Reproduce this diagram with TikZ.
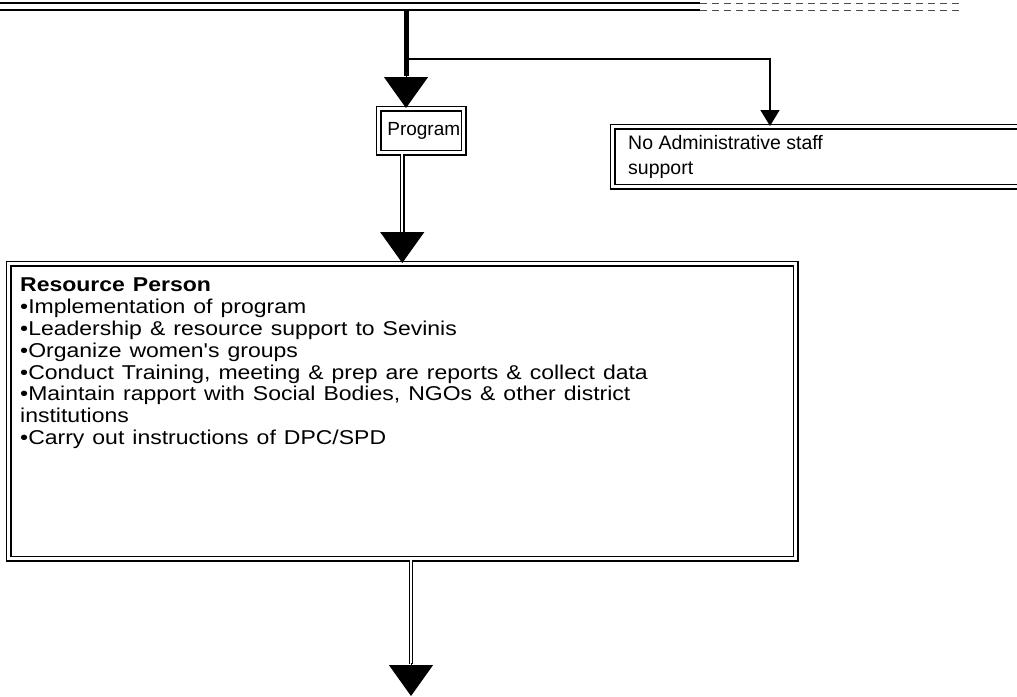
\documentclass[tikz,border=0pt]{standalone}
\usepackage{fontspec}
\setmainfont{Liberation Sans}
% a slightly widened face for the duty list
\newfontfamily\widesans[FakeStretch=1.15]{Liberation Sans}
\usetikzlibrary{arrows.meta,calc}
\newcommand\dutyfont{\widesans\fontsize{20}{21.8}\selectfont\spaceskip 8pt plus 1pt minus 1pt\relax}
\begin{document}
\begin{tikzpicture}[x=1pt,y=-1pt,
  dbox/.style={draw=black, double=white, double distance=2.6pt, line width=1.5pt, inner sep=0pt},
  shaft/.style={draw=black, double=white, double distance=2.2pt, line width=1.3pt},
  bighead/.style={-{Triangle[width=44pt,length=31pt]}, line width=1pt},
  smallhead/.style={-{Triangle[width=19pt,length=16pt]}, line width=1.4pt},
  txt/.style={font=\fontsize{19.5}{22}\selectfont, inner sep=0pt}
]
\useasboundingbox (0,0) rectangle (1017,696);

% ruled lines along the top edge, fading out to the right
\draw[line width=1.1pt] (0,3) -- (700,3);
\draw[line width=1.1pt] (0,10) -- (700,10);
\draw[line width=1pt, black!70, dash pattern=on 7pt off 5pt] (700,3) -- (960,3);
\draw[line width=1pt, black!70, dash pattern=on 7pt off 5pt] (700,10) -- (960,10);

% boxes
\node[dbox, txt, font=\fontsize{19}{22}\selectfont, minimum width=85pt, minimum height=44pt, anchor=north west] (prog) at (378,108) {\hspace*{5pt}Program};
\node[dbox, minimum width=440pt, minimum height=60pt, anchor=north west] (noad) at (612,126) {};
\node[txt, font=\fontsize{19.5}{25}\selectfont, align=left, anchor=north west] (noadtxt) at (628,135)
  {No Administrative staff\\support};
\node[dbox, minimum width=787pt, minimum height=295pt, anchor=north west] (res) at (8,263) {};
\node[txt, font=\dutyfont, align=left, anchor=north west] (restxt) at (20,278)
  {\textbf{Resource Person}\\
   •Implementation of program\\
   •Leadership \& resource support to Sevinis\\
   •Organize women's groups\\
   •Conduct Training, meeting \& prep are reports \& collect data\\
   •Maintain rapport with Social Bodies, NGOs \& other district\\
   institutions\\
   •Carry out instructions of DPC/SPD};

% connector coordinates
\coordinate (top) at (406,10);
\coordinate (split) at (406,59);
\coordinate (bend) at (770,59);
\coordinate (bottom) at (411,696);

% thick feed line into Program and branch to the staff box
\draw[line width=5pt] (top) -- (406,76);
\draw[bighead] ($(prog.north -| top)+(0,-32)$) -- (prog.north -| top);
\draw[smallhead] (split) -- (bend) -- (bend |- noad.north);

% Program down to Resource Person
\draw[shaft] (prog.south -| res.north) -- ($(res.north)+(0,-30)$);
\draw[bighead] ($(res.north)+(0,-31)$) -- (res.north);

% Resource Person down to the next level
\draw[shaft] (res.south -| bottom) -- ($(bottom)+(0,-32)$);
\draw[bighead] ($(bottom)+(0,-33)$) -- (bottom);
\end{tikzpicture}
\end{document}
